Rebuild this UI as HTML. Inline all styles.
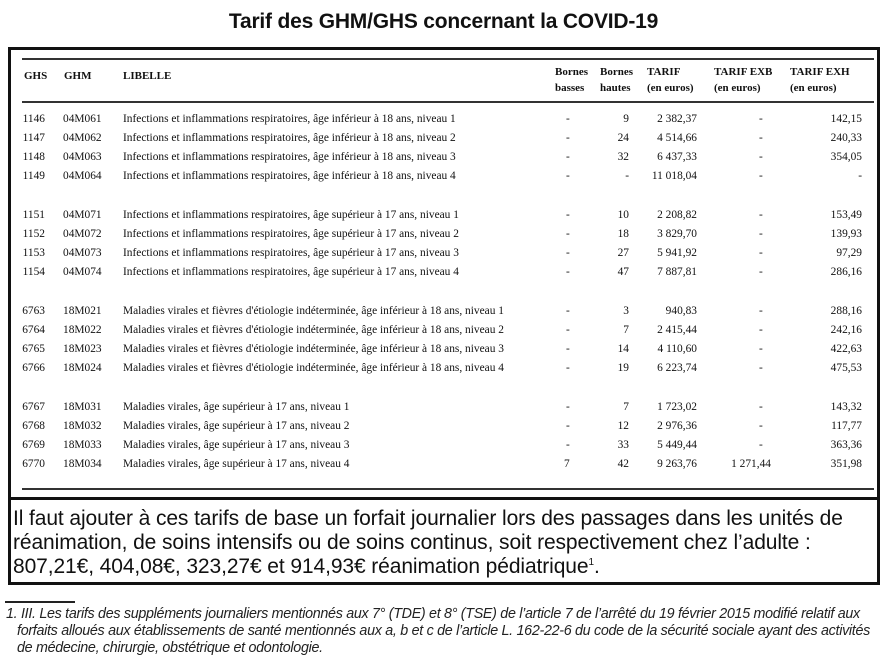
<!DOCTYPE html>
<html><head><meta charset="utf-8"><style>
body{margin:0;width:887px;height:658px;background:#fff;position:relative;overflow:hidden;font-family:"Liberation Serif",serif;color:#111}
.t{position:absolute;left:0;width:887px;top:10px;text-align:center;font:bold 21px "Liberation Sans",sans-serif;letter-spacing:-0.2px}
.box1{position:absolute;left:8px;top:47px;width:866px;height:447px;border:3px solid #111}
.box2{position:absolute;left:8px;top:497px;width:866px;height:82px;border:3px solid #111}
.hl{position:absolute;left:22px;width:852px;height:2px;background:#333}
.r{position:absolute;left:0;width:887px;height:16px;font-size:11.4px;line-height:16px}
.r span{position:absolute;white-space:nowrap}
.a{right:842px}.b{left:63px}.c{left:123px}.d{left:566px}.e{right:258px}.f{right:190px}.g{left:759px}.gx{right:116px}.h{right:25px}
.hd{position:absolute;font-size:11px;font-weight:bold;line-height:16px;white-space:nowrap}
.note{position:absolute;left:13px;top:507px;width:880px;white-space:nowrap;font:21px/24px "Liberation Sans",sans-serif;letter-spacing:-0.1px;color:#111}
.note sup{font-size:10px;line-height:0}
.fn{position:absolute;left:6px;top:606px;white-space:nowrap;font:italic 14.3px/17px "Liberation Sans",sans-serif;color:#222;letter-spacing:-0.3px}
</style></head><body>
<div class="t">Tarif des GHM/GHS concernant la COVID-19</div>
<div class="box1"></div>
<div class="hl" style="top:58px"></div>
<div class="hl" style="top:101px"></div>
<div class="hl" style="top:488px"></div>
<div class="hd" style="left:24px;top:68px">GHS</div>
<div class="hd" style="left:64px;top:68px">GHM</div>
<div class="hd" style="left:123px;top:68px">LIBELLE</div>
<div class="hd" style="left:555px;top:64px;font-weight:bold">Bornes<br>basses</div>
<div class="hd" style="left:600px;top:64px">Bornes<br>hautes</div>
<div class="hd" style="left:647px;top:64px">TARIF<br>(en euros)</div>
<div class="hd" style="left:714px;top:64px">TARIF EXB<br>(en euros)</div>
<div class="hd" style="left:790px;top:64px">TARIF EXH<br>(en euros)</div>

<div class="r" style="top:111px"><span class="a">1146</span><span class="b">04M061</span><span class="c">Infections et inflammations respiratoires, âge inférieur à 18 ans, niveau 1</span><span class="d">-</span><span class="e">9</span><span class="f">2 382,37</span><span class="g">-</span><span class="h">142,15</span></div>
<div class="r" style="top:130px"><span class="a">1147</span><span class="b">04M062</span><span class="c">Infections et inflammations respiratoires, âge inférieur à 18 ans, niveau 2</span><span class="d">-</span><span class="e">24</span><span class="f">4 514,66</span><span class="g">-</span><span class="h">240,33</span></div>
<div class="r" style="top:149px"><span class="a">1148</span><span class="b">04M063</span><span class="c">Infections et inflammations respiratoires, âge inférieur à 18 ans, niveau 3</span><span class="d">-</span><span class="e">32</span><span class="f">6 437,33</span><span class="g">-</span><span class="h">354,05</span></div>
<div class="r" style="top:168px"><span class="a">1149</span><span class="b">04M064</span><span class="c">Infections et inflammations respiratoires, âge inférieur à 18 ans, niveau 4</span><span class="d">-</span><span class="e">-</span><span class="f">11 018,04</span><span class="g">-</span><span class="h">-</span></div>

<div class="r" style="top:207px"><span class="a">1151</span><span class="b">04M071</span><span class="c">Infections et inflammations respiratoires, âge supérieur à 17 ans, niveau 1</span><span class="d">-</span><span class="e">10</span><span class="f">2 208,82</span><span class="g">-</span><span class="h">153,49</span></div>
<div class="r" style="top:226px"><span class="a">1152</span><span class="b">04M072</span><span class="c">Infections et inflammations respiratoires, âge supérieur à 17 ans, niveau 2</span><span class="d">-</span><span class="e">18</span><span class="f">3 829,70</span><span class="g">-</span><span class="h">139,93</span></div>
<div class="r" style="top:245px"><span class="a">1153</span><span class="b">04M073</span><span class="c">Infections et inflammations respiratoires, âge supérieur à 17 ans, niveau 3</span><span class="d">-</span><span class="e">27</span><span class="f">5 941,92</span><span class="g">-</span><span class="h">97,29</span></div>
<div class="r" style="top:264px"><span class="a">1154</span><span class="b">04M074</span><span class="c">Infections et inflammations respiratoires, âge supérieur à 17 ans, niveau 4</span><span class="d">-</span><span class="e">47</span><span class="f">7 887,81</span><span class="g">-</span><span class="h">286,16</span></div>

<div class="r" style="top:303px"><span class="a">6763</span><span class="b">18M021</span><span class="c">Maladies virales et fièvres d'étiologie indéterminée, âge inférieur à 18 ans, niveau 1</span><span class="d">-</span><span class="e">3</span><span class="f">940,83</span><span class="g">-</span><span class="h">288,16</span></div>
<div class="r" style="top:322px"><span class="a">6764</span><span class="b">18M022</span><span class="c">Maladies virales et fièvres d'étiologie indéterminée, âge inférieur à 18 ans, niveau 2</span><span class="d">-</span><span class="e">7</span><span class="f">2 415,44</span><span class="g">-</span><span class="h">242,16</span></div>
<div class="r" style="top:341px"><span class="a">6765</span><span class="b">18M023</span><span class="c">Maladies virales et fièvres d'étiologie indéterminée, âge inférieur à 18 ans, niveau 3</span><span class="d">-</span><span class="e">14</span><span class="f">4 110,60</span><span class="g">-</span><span class="h">422,63</span></div>
<div class="r" style="top:360px"><span class="a">6766</span><span class="b">18M024</span><span class="c">Maladies virales et fièvres d'étiologie indéterminée, âge inférieur à 18 ans, niveau 4</span><span class="d">-</span><span class="e">19</span><span class="f">6 223,74</span><span class="g">-</span><span class="h">475,53</span></div>

<div class="r" style="top:399px"><span class="a">6767</span><span class="b">18M031</span><span class="c">Maladies virales, âge supérieur à 17 ans, niveau 1</span><span class="d">-</span><span class="e">7</span><span class="f">1 723,02</span><span class="g">-</span><span class="h">143,32</span></div>
<div class="r" style="top:418px"><span class="a">6768</span><span class="b">18M032</span><span class="c">Maladies virales, âge supérieur à 17 ans, niveau 2</span><span class="d">-</span><span class="e">12</span><span class="f">2 976,36</span><span class="g">-</span><span class="h">117,77</span></div>
<div class="r" style="top:437px"><span class="a">6769</span><span class="b">18M033</span><span class="c">Maladies virales, âge supérieur à 17 ans, niveau 3</span><span class="d">-</span><span class="e">33</span><span class="f">5 449,44</span><span class="g">-</span><span class="h">363,36</span></div>
<div class="r" style="top:456px"><span class="a">6770</span><span class="b">18M034</span><span class="c">Maladies virales, âge supérieur à 17 ans, niveau 4</span><span class="d" style="left:564px">7</span><span class="e">42</span><span class="f">9 263,76</span><span class="gx" style="position:absolute">1 271,44</span><span class="h">351,98</span></div>

<div class="box2"></div>
<div class="note">Il faut ajouter à ces tarifs de base un forfait journalier lors des passages dans les unités de<br>réanimation, de soins intensifs ou de soins continus, soit respectivement chez l’adulte :<br>807,21€, 404,08€, 323,27€ et 914,93€ réanimation pédiatrique<sup>1</sup>.</div>
<div style="position:absolute;left:5px;top:601px;width:70px;height:2px;background:#222"></div>
<div class="fn">1. <i>III. Les tarifs des suppléments journaliers mentionnés aux 7° (TDE) et 8° (TSE) de l’article 7 de l’arrêté du 19 février 2015 modifié relatif aux<br>&nbsp;&nbsp;&nbsp;forfaits alloués aux établissements de santé mentionnés aux a, b et c de l’article L. 162-22-6 du code de la sécurité sociale ayant des activités<br>&nbsp;&nbsp;&nbsp;de médecine, chirurgie, obstétrique et odontologie.</i></div>
</body></html>
